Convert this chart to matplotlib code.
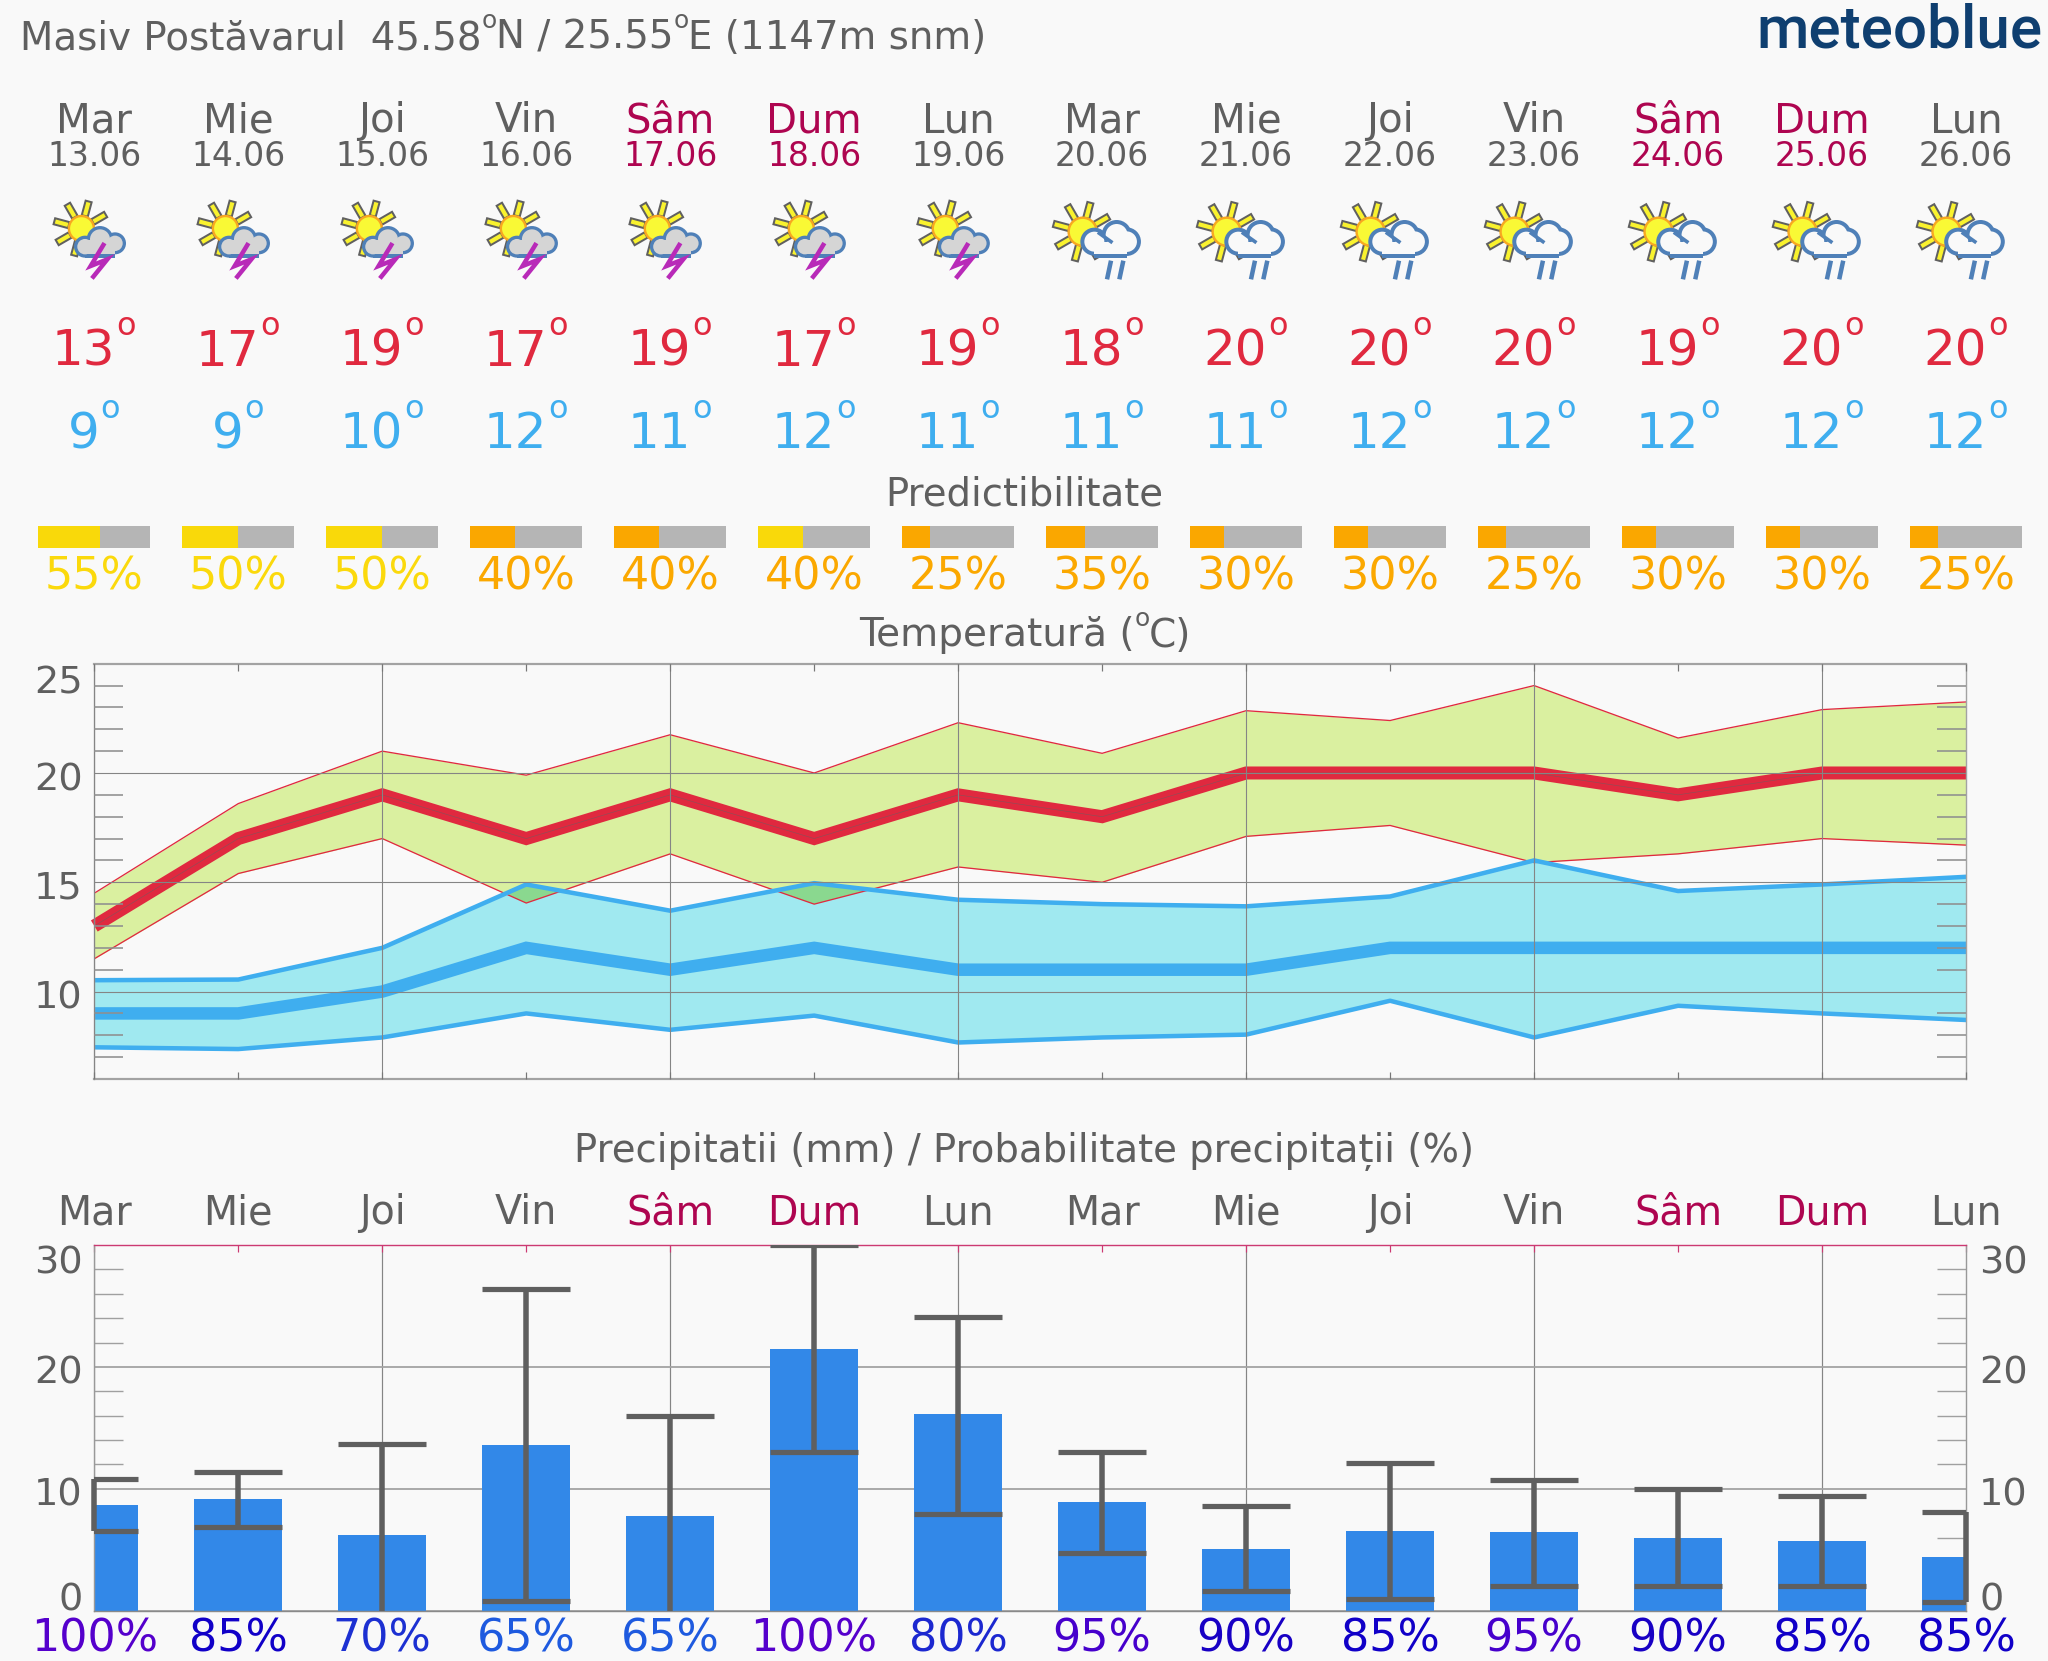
import matplotlib
matplotlib.use('Agg')
import matplotlib.pyplot as plt
import numpy as np
from matplotlib.patches import Circle, Polygon, Rectangle

plt.rcParams['font.family'] = ['DejaVu Sans']

# ---- data ----
days = ['Mar', 'Mie', 'Joi', 'Vin', 'Sâm', 'Dum', 'Lun', 'Mar', 'Mie', 'Joi', 'Vin', 'Sâm', 'Dum', 'Lun']
dates = ['13.06', '14.06', '15.06', '16.06', '17.06', '18.06', '19.06', '20.06', '21.06', '22.06', '23.06', '24.06', '25.06', '26.06']
weekend = [4, 5, 11, 12]
storm_days = [0, 1, 2, 3, 4, 5, 6]
tmax = [13, 17, 19, 17, 19, 17, 19, 18, 20, 20, 20, 19, 20, 20]
tmin = [9, 9, 10, 12, 11, 12, 11, 11, 11, 12, 12, 12, 12, 12]
predict = [55, 50, 50, 40, 40, 40, 25, 35, 30, 30, 25, 30, 30, 25]
predict_bar_yellow = [0, 1, 2, 5]
predict_text_yellow = [0, 1, 2]
tmax_hi = [14.5, 18.6, 21.0, 19.9, 21.75, 20.0, 22.3, 20.9, 22.85, 22.4, 24.0, 21.6, 22.9, 23.25]
tmax_lo = [11.5, 15.4, 17.0, 14.05, 16.3, 14.0, 15.7, 15.0, 17.1, 17.6, 15.9, 16.3, 17.0, 16.7]
tmin_hi = [10.52, 10.55, 12.0, 14.9, 13.7, 14.96, 14.2, 14.0, 13.9, 14.35, 16.0, 14.6, 14.9, 15.25]
tmin_lo = [7.45, 7.37, 7.9, 9.0, 8.25, 8.9, 7.67, 7.9, 8.03, 9.58, 7.9, 9.35, 9.0, 8.7]
precip = [8.67, 9.14, 6.18, 13.6, 7.77, 21.5, 16.1, 8.9, 5.04, 6.54, 6.43, 6.0, 5.7, 4.43]
precip_hi = [10.83, 11.35, 13.7, 26.37, 15.97, 30.0, 24.1, 13.0, 8.6, 12.1, 10.7, 10.0, 9.4, 8.1]
precip_lo = [6.54, 6.84, 0, 0.77, 0, 13.0, 7.9, 4.7, 1.6, 1.0, 2.0, 2.0, 2.0, 0.7]
precip_prob = [100, 85, 70, 65, 65, 100, 80, 95, 90, 85, 95, 90, 85, 85]
prob_colors = {100: '#5500CC', 95: '#4600CC', 90: '#1800C4', 85: '#1100C8', 80: '#1C28D0', 70: '#1C30D2', 65: '#1E5ADF'}

# ---- style ----
W, H = 2048, 1661
BG = '#F9F9F9'
TXT = '#5F5F5F'
WKND = '#AE0550'
RED = '#E0293F'
CYAN = '#3FAEEF'
X0, X1 = 94.3, 1966.0
DX = (X1 - X0) / 13
px = 0.72  # points per pixel at dpi 100

fig = plt.figure(figsize=(W / 100, H / 100), dpi=100, facecolor=BG)


def axes_px(top, bottom):
    return fig.add_axes([X0 / W, 1 - bottom / H, (X1 - X0) / W, (bottom - top) / H], facecolor='none')


idx = np.arange(14)

# ---- temperature ----
ax = axes_px(663.7, 1079)
ax.set_xlim(0, 13)
ax.set_ylim(6, 25)
ax.fill_between(idx, tmax_lo, tmax_hi, color='#DAF0A0', lw=0, zorder=1)
ax.fill_between(idx, tmin_lo, tmin_hi, color='#A0E9F0', lw=0, zorder=1.1)
ax.fill_between(idx, tmax_lo, tmin_hi, where=np.array(tmin_hi) > np.array(tmax_lo), interpolate=True,
                color='#8AD88F', lw=0, zorder=1.2)
ax.plot(idx, tmax_hi, color=RED, lw=1.3 * px, zorder=1.4)
ax.plot(idx, tmax_lo, color=RED, lw=1.3 * px, zorder=1.4)
ax.plot(idx, tmin_hi, color=CYAN, lw=4.5 * px, zorder=1.5)
ax.plot(idx, tmin_lo, color=CYAN, lw=4.5 * px, zorder=1.5)
ax.plot(idx, tmin, color=CYAN, lw=12.5 * px, zorder=1.6, solid_capstyle='butt', solid_joinstyle='miter')
ax.plot(idx, tmax, color=RED, lw=13 * px, zorder=1.7, solid_capstyle='butt', solid_joinstyle='miter', clip_on=False)
ax.plot(idx, tmax, color='#8A5058', lw=0.6 * px, zorder=1.8)
ax.set_axisbelow(False)
ax.set_xticks(range(0, 14, 2))
ax.set_xticks(range(1, 14, 2), minor=True)
ax.set_yticks([10, 15, 20])
ax.set_yticks([v for v in range(7, 25) if v % 5], minor=True)
ax.set_xticklabels([])
ax.set_yticklabels([])
ax.grid(True, which='major', axis='both', color='#858585', lw=1.1 * px)
ax.tick_params(axis='x', which='both', top=True, bottom=True, direction='in', length=7 * px, width=1.2 * px, color='#777777')
ax.tick_params(axis='y', which='major', length=0)
ax.tick_params(axis='y', which='minor', left=True, right=True, direction='in', length=29 * px, width=1.6 * px, color='#8F8F8F')
for s, sp in ax.spines.items():
    sp.set_color('#A3A3A3')
    sp.set_linewidth((2.2 if s in ('top', 'bottom') else 1.4) * px)
for v, off in zip([25, 20, 15, 10], [30, 18, 16, 16.5]):
    ax.annotate(str(v), xy=(0, v), xycoords=('axes fraction', 'data'), xytext=(-11.5 * px, -off * px),
                textcoords='offset points', ha='right', va='baseline', fontsize=27.5, color=TXT, annotation_clip=False)

# ---- precipitation ----
ap = axes_px(1245, 1610.7)
ap.set_xlim(0, 13)
ap.set_ylim(0, 30)
ap.set_axisbelow(True)
BW = 87.6 / DX
ap.bar(idx, precip, width=BW, color='#3288E8', lw=0, zorder=2)
ap.vlines(idx, precip_lo, precip_hi, color='#5F5F5F', lw=5.5 * px, zorder=3, clip_on=False)
ap.hlines(precip_hi, idx - BW / 2, idx + BW / 2, color='#5F5F5F', lw=5.2 * px, zorder=3)
lo_idx = [i for i in idx if precip_lo[i] > 0]
ap.hlines([precip_lo[i] for i in lo_idx], np.array(lo_idx) - BW / 2, np.array(lo_idx) + BW / 2,
          color='#5F5F5F', lw=5.2 * px, zorder=3)
ap.set_xticks(range(0, 14, 2))
ap.set_xticks(range(1, 14, 2), minor=True)
ap.set_yticks([0, 10, 20, 30])
ap.set_yticks([v for v in range(2, 30, 2) if v % 10], minor=True)
ap.set_xticklabels([])
ap.set_yticklabels([])
ap.grid(True, which='major', axis='x', color='#858585', lw=1.2 * px)
ap.grid(True, which='major', axis='y', color='#A3A3A3', lw=1.8 * px)
ap.tick_params(axis='x', which='both', top=True, bottom=False, direction='in', length=7 * px, width=1.2 * px, color='#CC3A72')
ap.tick_params(axis='y', which='major', length=0)
ap.tick_params(axis='y', which='minor', left=True, right=True, direction='in', length=29 * px, width=1.4 * px, color='#A0A0A0')
for s, sp in ap.spines.items():
    sp.set_color({'top': '#CC3A72', 'bottom': '#8A8A8A'}.get(s, '#999999'))
    sp.set_linewidth(1.4 * px)
for v, off in zip([30, 20, 10, 0], [29, 16.5, 16.5, 0]):
    ap.annotate(str(v), xy=(0, v), xycoords=('axes fraction', 'data'), xytext=(-11.5 * px, -off * px),
                textcoords='offset points', ha='right', va='baseline', fontsize=27.5, color=TXT, annotation_clip=False)
    ap.annotate(str(v), xy=(1, v), xycoords=('axes fraction', 'data'), xytext=(13 * px, -off * px),
                textcoords='offset points', ha='left', va='baseline', fontsize=27.5, color=TXT, annotation_clip=False)

# ---- header overlay: x in day index, y in image pixels ----
hd = fig.add_axes([0, 0, 1, 1], facecolor='none')
hd.set_xlim(-X0 / DX, (W - X0) / DX)
hd.set_ylim(H, 0)
hd.axis('off')

for i in idx:
    wk = i in weekend
    c = WKND if wk else TXT
    hd.text(i, 132.3, days[i], ha='center', va='baseline', fontsize=29, color=c)
    hd.text(i, 165.5, dates[i], ha='center', va='baseline', fontsize=23.8, color=c)
    hd.text(i, 1224.3, days[i], ha='center', va='baseline', fontsize=28.5, color=c)
    # temperatures with raised small "o"
    for val, base, col, ob in ((tmax[i], 365.7, RED, 335), (tmin[i], 448.3, CYAN, 417.5)):
        off = 21 / DX if val >= 10 else 5 / DX
        hd.text(i + off, base, str(val), ha='right', va='baseline', fontsize=36, color=col)
        hd.text(i + off + 1 / DX, ob, 'o', ha='left', va='baseline', fontsize=23, color=col)
    # predictability
    f = predict[i] / 100
    PW = 111.7 / DX
    hd.bar(i - PW / 2, 22, width=PW, bottom=526, align='edge', color='#B5B5B5', lw=0)
    hd.bar(i - PW / 2, 22, width=PW * f, bottom=526, align='edge',
           color='#F9D90A' if i in predict_bar_yellow else '#FAA700', lw=0)
    hd.text(i, 589.3, f'{predict[i]}%', ha='center', va='baseline', fontsize=32,
            color='#FBD90C' if i in predict_text_yellow else '#FBA800')
    hd.text(i, 1651.7, f'{precip_prob[i]}%', ha='center', va='baseline', fontsize=32, color=prob_colors[precip_prob[i]])


def rich(x, base, segs, size, small, rise, center=False):
    """Text in image pixels; segments in a list alternate normal text and raised small text."""
    r = fig.canvas.get_renderer()
    items = []
    cur = 0.0
    for k, s in enumerate(segs):
        raised = k % 2 == 1
        t = fig.text(0, 0, s, ha='left', va='baseline', fontsize=small if raised else size, color=TXT)
        items.append((t, cur, raised))
        cur += t.get_window_extent(r).width - 0.5
    start = x - cur / 2 if center else x
    for t, dx, raised in items:
        t.set_position(((start + dx) / W, 1 - (base - (rise if raised else 0)) / H))


mid = W / 2
hd.text((mid - X0) / DX, 505.5, 'Predictibilitate', ha='center', va='baseline', fontsize=27.8, color=TXT)
rich(mid + 1, 646.5, ['Temperatură (', 'o', 'C)'], 28.1, 18, 20, center=True)
hd.text((mid - X0) / DX, 1162, 'Precipitatii (mm) / Probabilitate precipitații (%)', ha='center', va='baseline', fontsize=27.8, color=TXT)
rich(20.5, 49.0, ['Masiv Postăvarul  45.58', 'o', 'N / 25.55', 'o', 'E (1147m snm)'], 27.9, 18, 21)
fig.text(2043 / W, 1 - 47.7 / H, 'meteoblue', ha='right', va='baseline', fontsize=43.4, color='#0F3F70',
         family='Roboto', weight='medium')

# ---- weather pictograms, pixel coordinates ----
ic = fig.add_axes([0, 0, 1, 1], facecolor='none')
ic.set_xlim(0, W)
ic.set_ylim(H, 0)
ic.axis('off')


def sun(cx, cy, r, r0, r1, w, z=3):
    for a in np.deg2rad([30, 75, 120, 165, 210, 255, 300, 345]):
        d = np.array([np.cos(a), -np.sin(a)])
        n = np.array([-d[1], d[0]])
        c = np.array([cx, cy])
        pts = [c + d * r0 + n * w / 2, c + d * r1 + n * w / 2, c + d * r1 - n * w / 2, c + d * r0 - n * w / 2]
        ic.add_patch(Polygon(pts, closed=True, fc='#F9F22E', ec='#606060', lw=2 * px, zorder=z))
    ic.add_patch(Circle((cx, cy), r, fc='#F9F935', ec='#F8A820', lw=2.4 * px, zorder=z + 0.1))


def cloud(ox, oy, lobes, rect, line, fill, z=4):
    for (x, y, r) in lobes:
        ic.add_patch(Circle((ox + x, oy + y), r, fc='#4F80B8', lw=0, zorder=z))
    rx, ry, rw, rh = rect
    ic.add_patch(Rectangle((ox + rx, oy + ry), rw, rh + line, fc='#4F80B8', lw=0, zorder=z))
    for (x, y, r) in lobes:
        ic.add_patch(Circle((ox + x, oy + y), r - line, fc=fill, lw=0, zorder=z + 0.1))
    ic.add_patch(Rectangle((ox + rx, oy + ry), rw, rh, fc=fill, lw=0, zorder=z + 0.1))


for i in idx:
    cx = X0 + i * DX
    if i in storm_days:
        sun(cx - 12.9, 228.5, 12.5, 13, 28, 6.2)
        ox = cx - 44.3
        cloud(ox, 190, [(35, 170 / 3, 11), (50, 148 / 3, 13.3), (65, 160 / 3, 11)],
              (35, 50, 30, 14.3), 3.3, '#D5D5D5')
        zx = np.array([160, 122, 172, 130]) / 3
        zy = np.array([165, 228, 208, 260]) / 3
        ic.plot(ox + zx, 190 + zy, color='#B82AB8', lw=4.5 * px, zorder=5, solid_joinstyle='miter')
    else:
        sun(cx - 19.5, 231.7, 14, 14, 30, 6.2)
        ox = cx - 62.8
        cloud(ox, 190, [(55, 155 / 3, 14), (77.3, 45, 15), (87.3, 155 / 3, 14.3)],
              (55, 52, 33, 12), 4, BG)
        ic.plot(ox + np.array([180, 215]) / 3, 190 + np.array([130, 155]) / 3, color='#4F80B8', lw=3.6 * px, zorder=5)
        for dxr in (0, 37):
            ic.plot(ox + np.array([215 + dxr, 203 + dxr]) / 3, 190 + np.array([212, 268]) / 3, color='#4F80B8', lw=4.5 * px, zorder=5, solid_capstyle='butt')

fig.savefig('out.png', dpi=100, facecolor=BG)
